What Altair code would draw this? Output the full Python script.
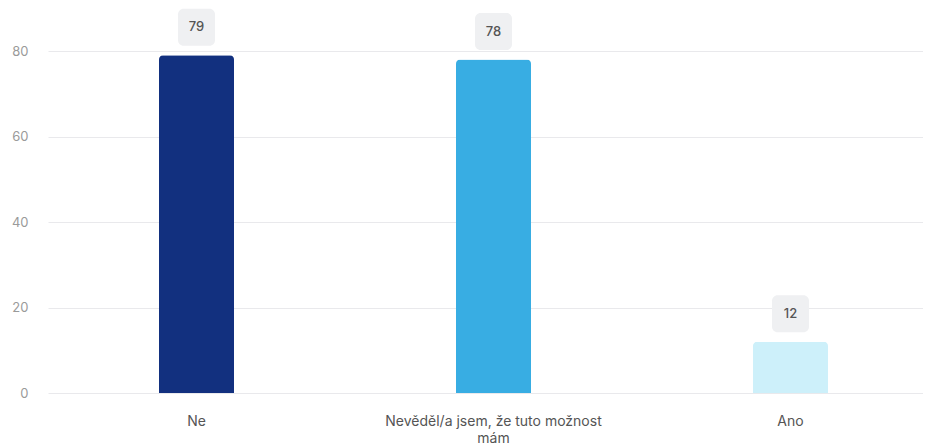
import altair as alt
import pandas as pd

categories = ["Ne", "Nevěděl/a jsem, že tuto možnost mám", "Ano"]
values = [79, 78, 12]
colors = ["#12307f", "#38ade3", "#cdf0fa"]

df = pd.DataFrame({"cat": categories, "val": values, "color": colors})

FONT = "Inter"
x = alt.X("cat:N", sort=categories, title=None,
          scale=alt.Scale(range=[0, 891]),
          axis=alt.Axis(labelAngle=0, labelPadding=28, labelFontSize=14, labelColor="#555555",
                        labelFont=FONT, domain=False, ticks=False, labelLineHeight=17,
                        labelLimit=400, labelBaseline="middle",
                        labelExpr="datum.label == 'Nevěděl/a jsem, že tuto možnost mám' ? ['Nevěděl/a jsem, že tuto možnost', 'mám'] : datum.label"))
y = alt.Y("val:Q", title=None, scale=alt.Scale(domain=[0, 80], nice=False),
          axis=alt.Axis(values=[0, 20, 40, 60, 80], labelPadding=20, labelFontSize=13,
                        labelColor="#9a9a9a", labelFont=FONT, domain=False, ticks=False,
                        gridColor="#e9e9ec", gridWidth=1))

bars = alt.Chart(df).mark_bar(size=75, cornerRadiusTopLeft=4, cornerRadiusTopRight=4).encode(
    x=x, y=y, color=alt.Color("color:N", scale=None))

rr = "M-0.7,-1 H0.7 A0.3,0.3 0 0 1 1,-0.7 V0.7 A0.3,0.3 0 0 1 0.7,1 H-0.7 A0.3,0.3 0 0 1 -1,0.7 V-0.7 A0.3,0.3 0 0 1 -0.7,-1 Z"
boxes = alt.Chart(df).mark_point(shape=rr, filled=True, size=1369, color="#eff0f2", opacity=1, yOffset=-28).encode(
    x=x, y=y)
labels = alt.Chart(df).mark_text(dy=-28, fontSize=13, fontWeight=500, color="#555555", font=FONT).encode(
    x=x, y=y, text="val:Q")

chart = (bars + boxes + labels).properties(
    width=875, height=342,
    autosize=alt.AutoSizeParams(type="none"),
    padding={"left": 40, "top": 43, "right": 0, "bottom": 52},
).configure_view(stroke=None)

chart.save("out.html", embed_options={"renderer": "svg", "actions": False})
